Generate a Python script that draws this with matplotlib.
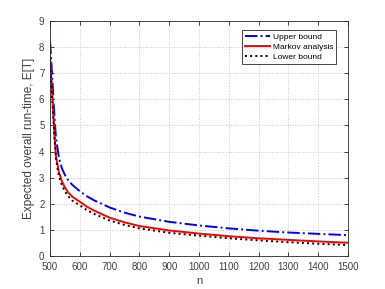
import numpy as np
import matplotlib.pyplot as plt

plt.rcParams['font.family'] = ['Liberation Sans', 'DejaVu Sans']

n = [500, 505, 510, 515, 520, 530, 540, 550, 560, 575, 600, 625, 650, 700,
     750, 800, 900, 1000, 1100, 1200, 1300, 1400, 1500]
upper = [8.2, 7.3, 6.3, 5.3, 4.5, 3.75, 3.35, 3.1, 2.92, 2.72, 2.48, 2.28, 2.12,
         1.86, 1.66, 1.51, 1.31, 1.17, 1.06, 0.97, 0.9, 0.85, 0.8]
markov = [7.6, 6.6, 5.6, 4.6, 3.8, 3.2, 2.85, 2.62, 2.45, 2.27, 2.08, 1.88, 1.73,
          1.47, 1.29, 1.15, 0.98, 0.86, 0.76, 0.68, 0.62, 0.56, 0.51]
lower = [7.5, 6.5, 5.5, 4.5, 3.7, 3.05, 2.7, 2.47, 2.3, 2.12, 1.94, 1.75, 1.6,
         1.36, 1.19, 1.06, 0.89, 0.78, 0.68, 0.6, 0.53, 0.47, 0.42]

fig = plt.figure(figsize=(3.85, 2.89), dpi=100)
ax = fig.add_axes([0.13, 0.114, 0.774, 0.814])

ax.plot(n, upper, color='#0000ff', linestyle='-.', linewidth=1.4, label='Upper bound')
ax.plot(n, markov, color='#ff0000', linestyle='-', linewidth=1.4, label='Markov analysis')
ax.plot(n, lower, color='black', linestyle=':', linewidth=1.4, label='Lower bound')

ax.set_xlim(500, 1500)
ax.set_ylim(0, 9)
ax.set_xticks(np.arange(500, 1501, 100))
ax.set_yticks(np.arange(0, 10, 1))
ax.tick_params(direction='in', labelsize=7, length=3, width=0.6, colors='#262626',
               labelcolor='#404040', top=True, right=True, pad=4)
ax.grid(True, linestyle=':', color='#c8c8c8', linewidth=0.7)
for s in ax.spines.values():
    s.set_linewidth(0.6)
    s.set_color('#262626')

ax.set_xlabel('n', fontsize=8, color='#404040', labelpad=3)
ax.set_ylabel('Expected overall run-time, E[T]', fontsize=8.5, color='#404040', labelpad=3)

leg = ax.legend(loc='upper right', bbox_to_anchor=(0.96, 0.96), borderaxespad=0,
                fontsize=6, fancybox=False, framealpha=1, edgecolor='#262626',
                handlelength=3.0, borderpad=0.35, labelspacing=0.25, handletextpad=0.3)
leg.get_frame().set_linewidth(0.6)

fig.savefig('out.png', dpi=100)
